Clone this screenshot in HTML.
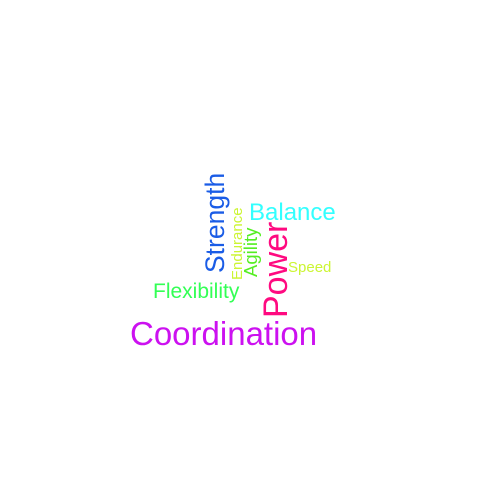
<!DOCTYPE html>
<html><head><style>
html,body{margin:0;padding:0;background:#fff;}
svg{display:block;}
text{font-family:"Liberation Sans",Arial,sans-serif;}
</style></head><body>
<svg width="504" height="504" viewBox="0 0 504 504" xmlns="http://www.w3.org/2000/svg">
<rect width="504" height="504" fill="#fff"/>
<text x="130" y="345" font-size="33" fill="#cc11f0">Coordination</text>
<text transform="translate(287,318) rotate(-90)" font-size="34" fill="#ff0a80">Power</text>
<text transform="translate(224,273) rotate(-90)" font-size="26.5" fill="#1a5ce6">Strength</text>
<text x="249" y="220" font-size="24" fill="#33ffff">Balance</text>
<text x="153" y="298" font-size="21" fill="#33ff55">Flexibility</text>
<text transform="translate(257,277) rotate(-90)" font-size="18.5" fill="#55ee22">Agility</text>
<text transform="translate(242,280) rotate(-90)" font-size="15" fill="#ccf533">Endurance</text>
<text x="288" y="272" font-size="15" fill="#ccf533">Speed</text>
</svg>
</body></html>
